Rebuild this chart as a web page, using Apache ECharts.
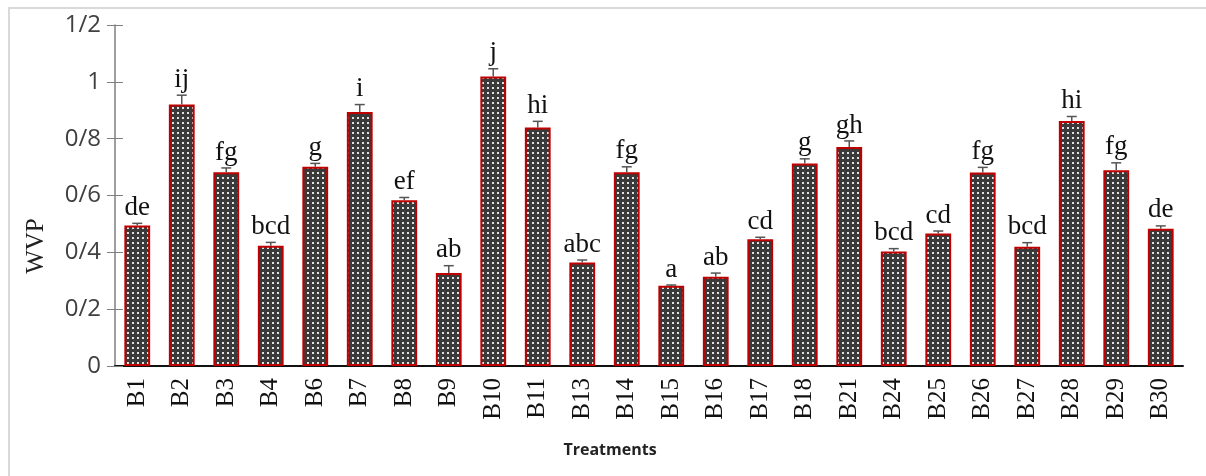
<!DOCTYPE html>
<html>
<head>
<meta charset="utf-8">
<script src="https://cdn.jsdelivr.net/npm/echarts@6/dist/echarts.min.js"></script>
<style>
  html, body { margin: 0; padding: 0; background: #fff; }
  #main { width: 1206px; height: 476px; }
</style>
</head>
<body>
<div id="main"></div>
<script>
// data
var treatments = ['B1','B2','B3','B4','B6','B7','B8','B9','B10','B11','B13','B14','B15','B16','B17','B18','B21','B24','B25','B26','B27','B28','B29','B30'];
var wvp   = [0.494,0.920,0.682,0.423,0.701,0.894,0.583,0.327,1.019,0.839,0.364,0.682,0.282,0.314,0.446,0.713,0.771,0.403,0.466,0.681,0.420,0.862,0.689,0.483];
var errs  = [0.008,0.033,0.015,0.012,0.012,0.026,0.010,0.026,0.027,0.022,0.009,0.019,0.003,0.013,0.007,0.016,0.021,0.010,0.009,0.018,0.014,0.016,0.026,0.010];
var groups = ['de','ij','fg','bcd','g','i','ef','ab','j','hi','abc','fg','a','ab','cd','g','gh','bcd','cd','fg','bcd','hi','fg','de'];
var yTickValues = [0, 0.2, 0.4, 0.6, 0.8, 1, 1.2];
var yTickLabels = ['0','0/2','0/4','0/6','0/8','1','1/2'];

// dotted fill like the original
function makePattern() {
  var c = document.createElement('canvas');
  c.width = 5; c.height = 5;
  var ctx = c.getContext('2d');
  ctx.fillStyle = '#3a3a3a';
  ctx.fillRect(0, 0, 5, 5);
  ctx.fillStyle = '#e2e2e2';
  ctx.fillRect(2, 2, 2, 2);
  return c;
}

var myChart = echarts.init(document.getElementById('main'));

var errData = [];
for (var i = 0; i < treatments.length; i++) {
  errData.push([i, wvp[i], errs[i], groups[i]]);
}

var option = {
  backgroundColor: '#ffffff',
  animation: false,
  grid: { left: 115, right: 23, top: 25, bottom: 110 },
  graphic: [
    { type: 'rect', shape: { x: 9, y: 8, width: 1260, height: 520 },
      style: { fill: 'none', stroke: '#d9d9d9', lineWidth: 2 } },
    { type: 'text', x: 36, y: 246, rotation: Math.PI / 2,
      style: { text: 'WVP', font: '25px "Liberation Serif"', fill: '#222', align: 'center', verticalAlign: 'middle' } },
    { type: 'text', x: 610, y: 450,
      style: { text: 'Treatments', font: 'bold 16px "Open Sans"', fill: '#222', align: 'center', verticalAlign: 'middle' } }
  ],
  xAxis: [
    {
      type: 'category',
      data: treatments,
      axisLine: { lineStyle: { color: '#111', width: 2 } },
      axisTick: { alignWithLabel: true, length: 6, lineStyle: { color: '#111', width: 2 } },
      axisLabel: { rotate: 90, margin: 12, fontFamily: 'Liberation Serif', fontSize: 25, color: '#111' }
    },
    {
      type: 'category',
      data: treatments,
      position: 'bottom',
      axisLine: { show: false },
      axisTick: { inside: true, alignWithLabel: true, length: 5, lineStyle: { color: '#111', width: 2 } },
      axisLabel: { show: false }
    }
  ],
  yAxis: [
    {
      type: 'value',
      min: 0, max: 1.2, interval: 0.2,
      splitLine: { show: false },
      axisLine: { show: true, lineStyle: { color: '#7f7f7f', width: 1.5 } },
      axisTick: { show: true, length: 8, lineStyle: { color: '#7f7f7f' } },
      axisLabel: {
        margin: 14, fontFamily: 'Open Sans', fontSize: 24, color: '#404040',
        formatter: function (v) {
          for (var k = 0; k < yTickValues.length; k++) {
            if (Math.abs(v - yTickValues[k]) < 1e-6) return yTickLabels[k];
          }
          return '';
        }
      }
    },
    {
      type: 'value',
      position: 'left',
      min: 0, max: 1.2, interval: 0.2,
      splitLine: { show: false },
      axisLine: { show: false },
      axisTick: { show: true, inside: true, length: 8, lineStyle: { color: '#7f7f7f' } },
      axisLabel: { show: false }
    }
  ],
  series: [
    {
      name: 'WVP',
      type: 'bar',
      barWidth: '58%',
      data: wvp,
      itemStyle: {
        color: { image: makePattern(), repeat: 'repeat' },
        borderColor: '#c00000',
        borderWidth: 2
      }
    },
    {
      // error bars + significance letters
      type: 'custom',
      data: errData,
      z: 5,
      renderItem: function (params, api) {
        var x = api.value(0);
        var top = api.coord([x, api.value(1)]);
        var hi = api.coord([x, api.value(1) + api.value(2)]);
        var half = 5;
        return {
          type: 'group',
          children: [
            { type: 'line', shape: { x1: top[0], y1: top[1], x2: hi[0], y2: hi[1] },
              style: { stroke: '#555', lineWidth: 1.5 } },
            { type: 'line', shape: { x1: hi[0] - half, y1: hi[1], x2: hi[0] + half, y2: hi[1] },
              style: { stroke: '#555', lineWidth: 1.5 } },
            { type: 'text', x: hi[0], y: hi[1] - 2,
              style: { text: groups[params.dataIndex], font: '27px "Liberation Serif"', fill: '#111',
                       align: 'center', verticalAlign: 'bottom' } }
          ]
        };
      }
    }
  ]
};

myChart.setOption(option);
</script>
</body>
</html>
